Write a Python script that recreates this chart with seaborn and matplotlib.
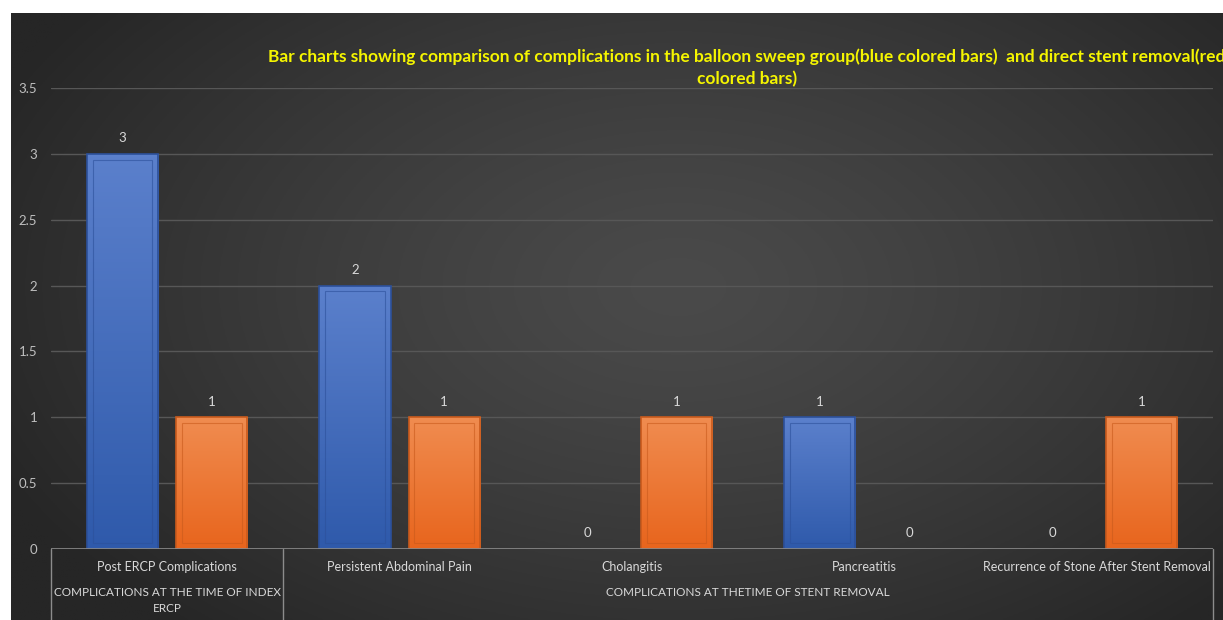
import numpy as np
import pandas as pd
import matplotlib
matplotlib.use("Agg")
import matplotlib.pyplot as plt
import matplotlib.transforms as mtransforms
from matplotlib.patches import Rectangle
from matplotlib.colors import LinearSegmentedColormap
import seaborn as sns

# ---------------- data ----------------
categories = ["Post ERCP Complications", "Persistent Abdominal Pain", "Cholangitis",
              "Pancreatitis", "Recurrence of Stone After Stent Removal"]
balloon_sweep = [3, 2, 0, 1, 0]
direct_removal = [1, 1, 1, 0, 1]
series_names = ["Balloon sweep", "Direct stent removal"]
group_labels = ["COMPLICATIONS AT THE TIME OF INDEX\nERCP", "COMPLICATIONS AT THETIME OF STENT REMOVAL"]
group_spans = [(0, 0), (1, 4)]
yticks = [0, 0.5, 1, 1.5, 2, 2.5, 3, 3.5]
title = ("Bar charts showing comparison of complications in the balloon sweep group(blue colored bars)  "
         "and direct stent removal(red\ncolored bars)")

df = pd.DataFrame({
    "category": categories * 2,
    "value": balloon_sweep + direct_removal,
    "series": [series_names[0]] * len(categories) + [series_names[1]] * len(categories),
})

sns.set_theme(style="dark")
plt.rcParams["font.family"] = ["Lato", "DejaVu Sans"]

W, H = 1223, 620
fig = plt.figure(figsize=(W / 100, H / 100), dpi=100)
fig.patch.set_facecolor("white")

# background radial gradient
bg = fig.add_axes([11 / W, 0, 1 - 11 / W, 1 - 13 / H])
bg.set_axis_off()
ny, nx = 300, 600
yy, xx = np.mgrid[0:ny, 0:nx]
cx, cy = 0.55 * nx, 0.45 * ny
r = np.sqrt(((xx - cx) / (0.62 * nx)) ** 2 + ((yy - cy) / (0.75 * ny)) ** 2)
r = np.clip(r, 0, 1)
inner = np.array([0x4a, 0x4a, 0x4a]) / 255
outer = np.array([0x26, 0x26, 0x26]) / 255
img = inner[None, None, :] * (1 - r[..., None] ** 1.3) + outer[None, None, :] * (r[..., None] ** 1.3)
bg.imshow(img, aspect="auto", extent=[0, 1, 0, 1], origin="upper")
bg.set_zorder(-10)

ax = fig.add_axes([51 / W, (H - 549) / H, 1162 / W, 461 / H])
ax.set_facecolor("none")
ax.patch.set_alpha(0)

palette = {series_names[0]: "#4472C4", series_names[1]: "#ED7D31"}
sns.barplot(data=df, x="category", y="value", hue="series", palette=palette,
            width=0.768, gap=0.203, ax=ax, legend=False, errorbar=None,
            order=categories, hue_order=series_names)

grad_cols = {
    0: ("#5b80cc", "#2f5aab", "#2c509a"),
    1: ("#f08c50", "#e8651d", "#c95a1c"),
}
for ci, cont in enumerate(ax.containers):
    top_c, bot_c, edge_c = grad_cols[ci]
    cmap = LinearSegmentedColormap.from_list("g%d" % ci, [bot_c, top_c])
    for p in cont.patches:
        x0, y0 = p.get_x(), p.get_y()
        w, h = p.get_width(), p.get_height()
        p.set_facecolor("none")
        p.set_edgecolor(edge_c)
        p.set_linewidth(1.2)
        p.set_zorder(4)
        if h <= 0:
            p.set_edgecolor("none")
            continue
        grad = np.linspace(0, 1, 100).reshape(-1, 1)
        im = ax.imshow(grad, cmap=cmap, extent=[x0, x0 + w, y0, y0 + h], aspect="auto",
                       origin="lower", zorder=3, interpolation="bilinear")
        im.set_clip_path(p)
        dx = w * 0.08
        dy = 0.045
        if h > 2 * dy:
            ax.add_patch(Rectangle((x0 + dx, y0 + dy), w - 2 * dx, h - 2 * dy, fill=False,
                                   edgecolor=edge_c, lw=0.8, alpha=0.6, zorder=5))
    ax.bar_label(cont, labels=[f"{v:g}" for v in cont.datavalues], padding=7,
                 color="#d9d9d9", fontsize=9.5)

ax.set_xlim(-0.5, len(categories) - 0.5)
ax.set_ylim(0, 3.5)
ax.set_yticks(yticks)
ax.set_yticklabels([f"{t:g}" for t in yticks], color="#bfbfbf", fontsize=9.5)
ax.tick_params(axis="y", length=0, pad=10)
ax.set_xticks([])
ax.set_xlabel("")
ax.set_ylabel("")
for s in ax.spines.values():
    s.set_visible(False)
ax.grid(False)
for t in yticks[1:]:
    ax.axhline(t, color="#575757", lw=1, zorder=1)
ax.axhline(0, color="#8c8c8c", lw=1.2, zorder=6)

trans = mtransforms.blended_transform_factory(ax.transData, ax.transAxes)
bottom_frac = -(H - 549) / 461
for xv in [-0.5, 0.5, len(categories) - 0.5]:
    ax.plot([xv, xv], [0, bottom_frac], transform=trans, color="#8c8c8c", lw=1, clip_on=False, zorder=6)

for i, c in enumerate(categories):
    ax.annotate(c, xy=(i, 0), xycoords=trans, xytext=(0, -18), textcoords="offset pixels",
                ha="center", va="center", color="#d9d9d9", fontsize=9, annotation_clip=False)

for lab, (a, b) in zip(group_labels, group_spans):
    nlines = lab.count("\n") + 1
    ax.annotate(lab, xy=((a + b) / 2, 0), xycoords=trans,
                xytext=(0, -38 if nlines > 1 else -44), textcoords="offset pixels",
                ha="center", va="top" if nlines > 1 else "center", color="#d9d9d9",
                fontsize=8.5, linespacing=1.5, annotation_clip=False)

fig.text(747 / W, 1 - 48 / H, title,
         ha="center", va="top", color="#f5f500", fontsize=12.5, fontweight="bold", linespacing=1.45)

fig.savefig("out.png", dpi=100)
